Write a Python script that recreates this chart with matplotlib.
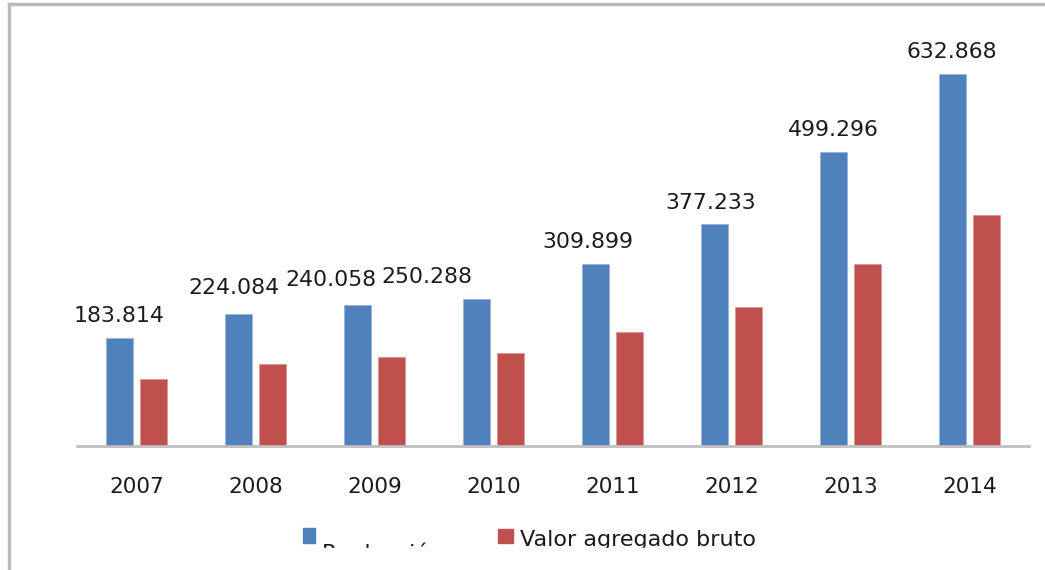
import matplotlib.pyplot as plt
import numpy as np
from matplotlib.lines import Line2D
from matplotlib.patches import Rectangle

years = ['2007', '2008', '2009', '2010', '2011', '2012', '2013', '2014']
produccion = [183.814, 224.084, 240.058, 250.288, 309.899, 377.233, 499.296, 632.868]
vab = [114, 139, 151, 158, 194, 236, 310, 393]
labels = ['183.814', '224.084', '240.058', '250.288', '309.899', '377.233', '499.296', '632.868']

# label nudges in pixels (some labels were dragged in the original)
nudge = [(0, 22), (-4, 26), (-26, 25), (-49, 22), (-7, 22), (-3, 21), (0, 22), (0, 22)]

blue = '#4F81BD'
red = '#C0504D'

fig = plt.figure(figsize=(10.45, 5.7), dpi=100)
ax = fig.add_axes([77/1045, 1-446/570, (1029-77)/1045, (446-34)/570])

x = np.arange(len(years))
w = 0.227
off = 0.147
ax.bar(x - off, produccion, w, color=blue, edgecolor='#9DB4D6', linewidth=0.6)
ax.bar(x + off, vab, w, color=red, edgecolor='#D89694', linewidth=0.6)

for i, lab in enumerate(labels):
    ax.annotate(lab, (x[i] - off, produccion[i]), xytext=nudge[i],
                textcoords='offset pixels', ha='center', va='center',
                fontsize=15.8, color='#1a1a1a')

ax.set_xlim(-0.5, 7.5)
ax.set_ylim(0, 700)
ax.set_xticks(x)
ax.set_xticklabels(years, fontsize=15.5, color='#1a1a1a')
ax.tick_params(axis='x', length=0, pad=22)
ax.set_yticks([])
for s in ['top', 'right', 'left']:
    ax.spines[s].set_visible(False)
ax.spines['bottom'].set_color('#BFBFBF')
ax.spines['bottom'].set_linewidth(2)

# outer frame (top and left edges)
fig.add_artist(Line2D([9/1045, 1], [1-4/570, 1-4/570], color='#BBBBBB', lw=2.5))
fig.add_artist(Line2D([9/1045, 9/1045], [0, 1-4/570], color='#BBBBBB', lw=2.5))

# legend drawn by hand, bottom is cut off like the original
fig.add_artist(Rectangle((303/1045, 1-543/570), 12/1045, 15/570, color=blue))
fig.add_artist(Rectangle((498/1045, 1-543/570), 15/1045, 14/570, color=red))
fig.text(322/1045, 1-560/570, 'Producción', fontsize=16, va='baseline', color='#1a1a1a')
fig.text(520/1045, 1-546/570, 'Valor agregado bruto', fontsize=16, va='baseline', color='#1a1a1a')
fig.add_artist(Rectangle((280/1045, 0), 500/1045, 22/570, color='white', zorder=10))

fig.savefig('out.png', dpi=100)
